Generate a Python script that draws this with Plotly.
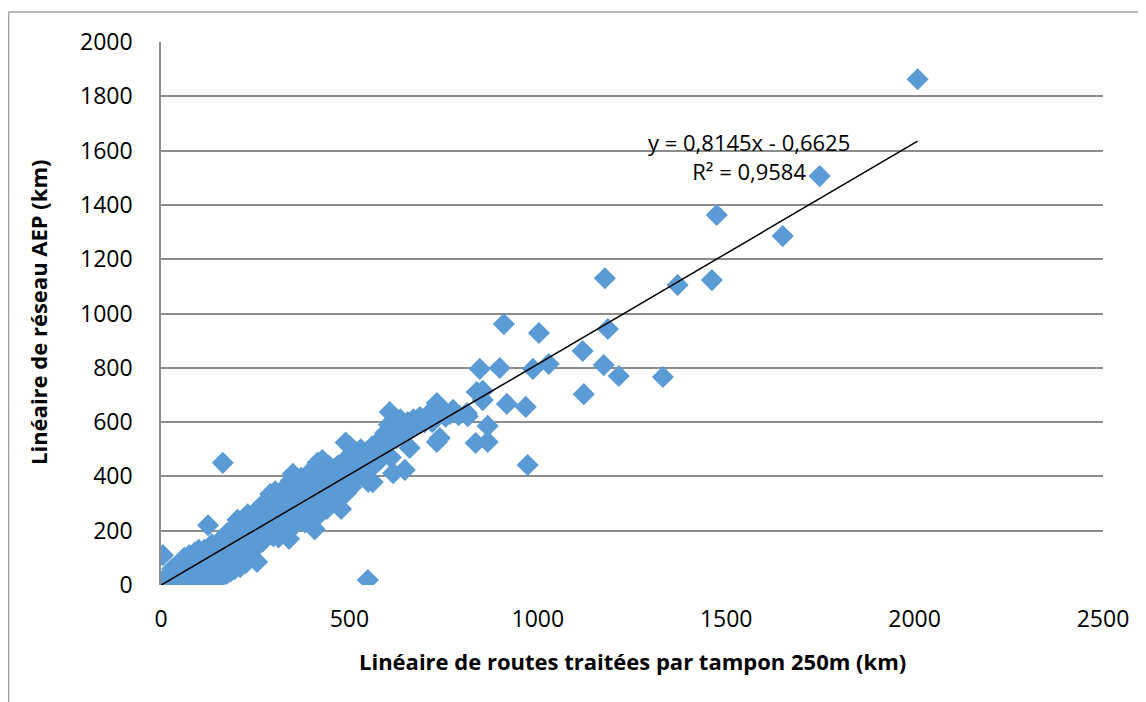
import plotly.graph_objects as go

# --- Data ---
x_routes = [
    0, 2, 5, 8, 10, 12, 15, 18, 20, 22, 25, 28, 30, 32, 35, 38, 40, 42, 45, 48, 50, 52, 55, 58, 60, 62, 65, 68, 70, 72,
    75, 78, 80, 82, 85, 88, 90, 92, 95, 98, 100,
    102, 104, 106, 108, 110, 112, 115, 118, 120, 122, 125, 127, 130, 132, 135, 138, 140, 142, 145, 148, 150, 152, 155,
    158, 160, 162, 165, 168, 170, 172, 175, 178, 180, 182, 185, 188, 190, 192, 195, 198, 200, 200,
    105, 112, 120, 128, 135, 145, 155, 165, 175, 185, 195, 210, 225,
    203, 205, 208, 210, 212, 215, 218, 220, 222, 225, 228, 230, 232, 235, 238, 240, 242, 245, 248, 250, 252, 255, 257,
    260, 262, 265, 268, 270, 272, 275, 278, 280, 282, 285, 288, 290, 292, 295, 298, 300, 300,
    303, 305, 308, 310, 312, 315, 318, 320, 322, 325, 328, 330, 332, 335, 338, 340, 342, 345, 348, 350, 352, 355, 358,
    360, 362, 365, 368, 370, 372, 375, 378, 380, 382, 385, 388, 390, 392, 395, 398, 400,
    402, 405, 408, 410, 412, 415, 418, 420, 422, 425, 428, 430, 432, 435, 438, 440, 442, 445, 448, 450, 455, 458, 460,
    462, 465, 468, 470, 475, 478, 480, 482, 485, 488, 490, 492, 495, 498, 500, 502, 505,
    510, 515, 520, 525, 530, 535, 540, 545, 550, 555, 560, 562, 565, 570, 575, 580, 585, 590, 595, 600, 605, 607, 610,
    615, 616, 620, 625, 630, 635, 640, 645, 647, 650, 655, 660, 665, 670, 680, 687, 700, 710, 720, 732, 732, 740, 745,
    755, 767, 775, 790, 812, 814,
    164, 549, 835, 846, 838, 854, 854, 867, 867, 899, 910, 918, 968, 973, 987, 1003, 1029, 1119, 1122, 1175, 1178,
    1186, 1215, 1332, 1371, 1462, 1475, 1650, 1748, 2008,
]
y_aep = [
    0, 5, 110, 2, 15, 8, 30, 5, 20, 40, 3, 25, 60, 10, 35, 50, 4, 20, 70, 40, 8, 55, 90, 25, 45, 100, 12, 60, 80, 30,
    110, 50, 15, 70, 95, 40, 120, 60, 20, 85, 130,
    40, 75, 110, 20, 90, 55, 130, 30, 100, 70, 220, 45, 115, 85, 150, 60, 105, 35, 140, 90, 120, 50, 160,
    75, 130, 100, 175, 60, 145, 110, 190, 80, 150, 125, 200, 95, 165, 70, 140, 210, 120, 175,
    5, 8, 10, 12, 18, 22, 28, 35, 42, 50, 58, 66, 80,
    240, 95, 150, 190, 230, 110, 170, 245, 135, 200, 120, 260, 160, 215, 140, 250, 185, 130, 230, 270, 170, 85, 210,
    150, 280, 195, 240, 160, 300, 220, 175, 260, 310, 190, 240, 335, 205, 270, 180, 300, 230,
    345, 200, 260, 310, 175, 280, 230, 330, 200, 290, 250, 360, 215, 300, 265, 170, 320, 385, 240, 410, 290, 340, 225,
    300, 380, 260, 330, 290, 395, 250, 345, 310, 230, 365, 280, 400, 320, 260, 350, 300,
    425, 340, 205, 290, 380, 450, 320, 260, 400, 345, 460, 300, 370, 420, 330, 280, 395, 440, 350, 310, 410, 370, 330,
    430, 390, 350, 440, 400, 280, 360, 420, 450, 380, 525, 340, 470, 400, 430, 510, 360,
    450, 480, 400, 440, 500, 460, 420, 490, 380, 470, 510, 379, 440, 480, 520, 460, 540, 500, 560, 520, 590, 637, 470,
    555, 412, 600, 540, 580, 610, 560, 590, 424, 560, 600, 505, 580, 610, 590, 619, 600, 630, 600, 670, 527, 541, 650,
    620, 630, 645, 625, 633, 622,
    450, 18, 523, 796, 711, 715, 681, 586, 527, 799, 961, 667, 656, 442, 796, 928, 814, 862, 703, 810, 1130,
    943, 770, 766, 1105, 1123, 1363, 1285, 1506, 1863,
]

trend_slope = 0.8145
trend_intercept = -0.6625
trend_label = "y = 0,8145x - 0,6625<br>R² = 0,9584"

x_ticks = [0, 500, 1000, 1500, 2000, 2500]
y_ticks = [0, 200, 400, 600, 800, 1000, 1200, 1400, 1600, 1800, 2000]

x_title = "Linéaire de routes traitées par tampon 250m (km)"
y_title = "Linéaire de réseau AEP (km)"

# --- Figure geometry (page has an 8px body offset) ---
OFF = 8
W, H = 1138, 694
ML, MR, MT, MB = 153, 43, 34, 117
PW, PH = W - ML - MR, H - MT - MB


def px(page_x):
    return (page_x - OFF - ML) / PW


def py(page_y):
    return (H - MB - (page_y - OFF)) / PH


FONT = "Open Sans"
GRID = "#8c8c8c"
BORDER = "#a0a0a0"

fig = go.Figure()
fig.add_trace(go.Scatter(
    x=x_routes, y=y_aep, mode="markers",
    marker=dict(symbol="diamond", size=17, color="rgb(91,155,213)", line=dict(width=0)),
    hoverinfo="x+y", showlegend=False,
))

tx = [0, max(x_routes)]
ty = [trend_slope * v + trend_intercept for v in tx]
fig.add_trace(go.Scatter(x=tx, y=ty, mode="lines", line=dict(color="black", width=1.5),
                         showlegend=False, hoverinfo="skip"))

fig.update_layout(
    width=W, height=H,
    margin=dict(l=ML, r=MR, t=MT, b=MB),
    paper_bgcolor="white", plot_bgcolor="white",
    font=dict(family=FONT, color="black", size=20),
    xaxis=dict(range=[0, 2500], tickvals=x_ticks, ticktext=[str(v) for v in x_ticks],
               showgrid=False, zeroline=False, showline=False, ticks="",
               ticklabelstandoff=18, tickfont=dict(size=23, family=FONT)),
    yaxis=dict(range=[0, 2000], tickvals=y_ticks, ticktext=[str(v) for v in y_ticks],
               showgrid=True, gridcolor=GRID, gridwidth=1.5, zeroline=False,
               showline=True, linecolor=GRID, linewidth=1.5, ticks="",
               ticklabelstandoff=22, tickfont=dict(size=23, family=FONT)),
    shapes=[
        dict(type="line", xref="paper", yref="paper",
             x0=px(8.5), x1=px(8.5), y0=py(710), y1=py(12),
             line=dict(color=BORDER, width=1.5)),
        dict(type="line", xref="paper", yref="paper",
             x0=px(8.5), x1=px(1160), y0=py(12), y1=py(12),
             line=dict(color=BORDER, width=1.5)),
    ],
    annotations=[
        dict(text=trend_label, x=1560, y=1578, xref="x", yref="y", showarrow=False,
             font=dict(size=22, family=FONT), align="center", xanchor="center", yanchor="middle"),
        dict(text="<b>" + x_title + "</b>", xref="paper", yref="paper",
             x=px(632), y=py(661), showarrow=False,
             font=dict(size=22, family=FONT), xanchor="center", yanchor="middle"),
        dict(text="<b>" + y_title + "</b>", xref="paper", yref="paper",
             x=px(38), y=py(312), showarrow=False, textangle=-90,
             font=dict(size=22, family=FONT), xanchor="center", yanchor="middle"),
    ],
)

fig.write_html("out.html")
